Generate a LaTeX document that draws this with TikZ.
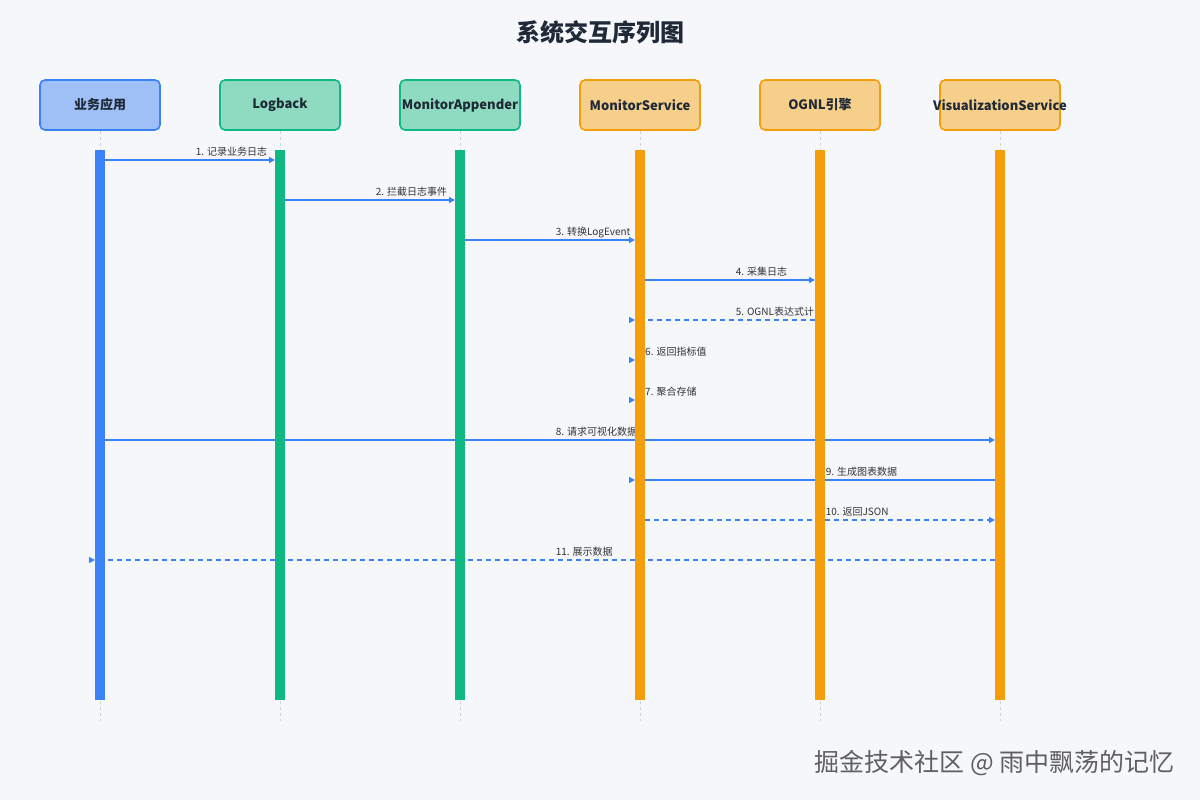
\documentclass[tikz,border=0pt]{standalone}
\usepackage{fontspec}
\setmainfont{Noto Sans CJK SC}
\usetikzlibrary{arrows.meta,positioning}

\definecolor{bgcol}{HTML}{F5F7FB}
\definecolor{titlecol}{HTML}{1F2937}
\definecolor{lblcol}{HTML}{333333}
\definecolor{msgblue}{HTML}{3B82F6}
\definecolor{cblue}{HTML}{3B82F6}
\definecolor{cbluefill}{HTML}{9FC0F7}
\definecolor{cgreen}{HTML}{10B981}
\definecolor{cgreenfill}{HTML}{8EDBC1}
\definecolor{corange}{HTML}{F59E0B}
\definecolor{corangefill}{HTML}{F6CF8A}

\newcommand{\hd}[1]{\makebox[100pt]{#1}}

\begin{document}
\begin{tikzpicture}[x=1pt,y=-1pt,node distance=180pt,on grid,
	actor/.style={draw=#1,fill=#1fill,line width=1.6pt,rounded corners=5pt,minimum width=120pt,minimum height=50pt,inner xsep=0pt,font=\bfseries\fontsize{13}{15}\selectfont,text=titlecol},
	bar/.style={fill=#1,minimum width=10pt,minimum height=550pt,inner sep=0pt},
	life/.style={draw=gray!35,dashed,line width=0.8pt},
	msg/.style={draw=msgblue,line width=1.5pt,-{Triangle[length=6pt,width=6pt]}},
	reply/.style={msg,dash pattern=on 5pt off 4pt},
	lbl/.style={font=\fontsize{10}{12}\selectfont,text=lblcol,inner sep=0pt,anchor=base west,xshift=5pt,yshift=5pt}
	]

\useasboundingbox[fill=bgcol] (0,0) rectangle (1200,800);

\node[font=\bfseries\fontsize{24}{28}\selectfont,text=titlecol] (title) at (600,32) {系统交互序列图};

% participants
\node[actor=cblue] (app) at (100,105) {\hd{业务应用}};
\node[actor=cgreen,right=of app] (logback) {\hd{Logback}};
\node[actor=cgreen,right=of logback] (appender) {\hd{MonitorAppender}};
\node[actor=corange,right=of appender] (monitor) {\hd{MonitorService}};
\node[actor=corange,right=of monitor] (ognl) {\hd{OGNL引擎}};
\node[actor=corange,right=of ognl] (vis) {\hd{VisualizationService}};

\foreach \n in {app,logback,appender,monitor,ognl,vis}
	\draw[life] (\n.south) -- ++(0,590);

\foreach \i/\y in {1/160,2/200,3/240,4/280,5/320,6/360,7/400,8/440,9/480,10/520,11/560}
	\coordinate (m\i) at (0,\y);

% messages
\draw[msg] ([xshift=5pt]app.south |- m1) -- ([xshift=-5pt]logback.south |- m1) node[midway,lbl] (l1) {1. 记录业务日志};
\draw[msg] ([xshift=5pt]logback.south |- m2) -- ([xshift=-5pt]appender.south |- m2) node[midway,lbl] (l2) {2. 拦截日志事件};
\draw[msg] ([xshift=5pt]appender.south |- m3) -- ([xshift=-5pt]monitor.south |- m3) node[midway,lbl] (l3) {3. 转换LogEvent};
\draw[msg] ([xshift=5pt]monitor.south |- m4) -- ([xshift=-5pt]ognl.south |- m4) node[midway,lbl] (l4) {4. 采集日志};
\draw[reply,-] ([xshift=-5pt]ognl.south |- m5) -- ([xshift=5pt]monitor.south |- m5) node[midway,lbl] (l5) {5. OGNL表达式计};
\draw[msg] ([xshift=-11pt]monitor.south |- m5) -- ([xshift=-5pt]monitor.south |- m5);
\draw[msg] ([xshift=-11pt]monitor.south |- m6) -- ([xshift=-5pt]monitor.south |- m6);
\node[lbl] (l6) at (monitor.south |- m6) {6. 返回指标值};
\draw[msg] ([xshift=-11pt]monitor.south |- m7) -- ([xshift=-5pt]monitor.south |- m7);
\node[lbl] (l7) at (monitor.south |- m7) {7. 聚合存储};
\draw[msg] ([xshift=5pt]app.south |- m8) -- ([xshift=-5pt]vis.south |- m8) node[midway,lbl] (l8) {8. 请求可视化数据};
\draw[msg,-] ([xshift=-5pt]vis.south |- m9) -- ([xshift=5pt]monitor.south |- m9) node[midway,lbl] (l9) {9. 生成图表数据};
\draw[msg] ([xshift=-11pt]monitor.south |- m9) -- ([xshift=-5pt]monitor.south |- m9);
\draw[reply] ([xshift=5pt]monitor.south |- m10) -- ([xshift=-5pt]vis.south |- m10) node[midway,lbl] (l10) {10. 返回JSON};
\draw[reply,-] ([xshift=-5pt]vis.south |- m11) -- ([xshift=5pt]app.south |- m11) node[midway,lbl] (l11) {11. 展示数据};
\draw[msg] ([xshift=-11pt]app.south |- m11) -- ([xshift=-5pt]app.south |- m11);

% activation bars
\foreach \n/\c in {app/cblue,logback/cgreen,appender/cgreen,monitor/corange,ognl/corange,vis/corange}
	\node[bar=\c] (bar-\n) at (\n.south |- 0,425) {};

\node[font=\fontsize{25}{30}\selectfont,text=gray!75!black,anchor=east] (mark) at (1178,763) {掘金技术社区 @ 雨中飘荡的记忆};

\end{tikzpicture}
\end{document}
